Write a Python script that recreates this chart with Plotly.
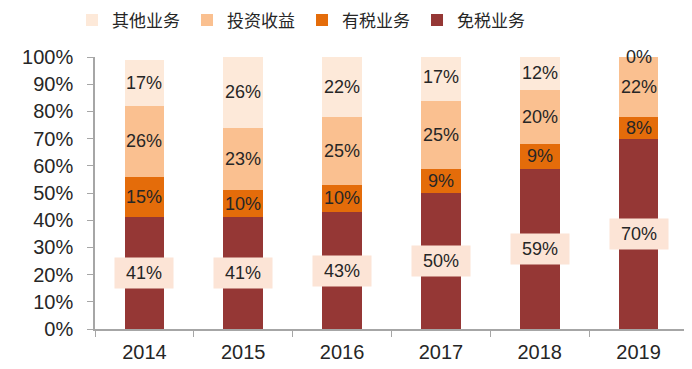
import plotly.graph_objects as go

years = ["2014", "2015", "2016", "2017", "2018", "2019"]
series_names = ["免税业务", "有税业务", "投资收益", "其他业务"]
duty_free = [41, 41, 43, 50, 59, 70]
duty_paid = [15, 10, 10, 9, 9, 8]
investment = [26, 23, 25, 25, 20, 22]
other = [17, 26, 22, 17, 12, 0]
colors = ["#953735", "#E46C0A", "#FAC090", "#FDE9D9"]
label_bg = "#FCE4D6"

all_values = [duty_free, duty_paid, investment, other]
FONT = "Liberation Sans, Arial, Noto Sans CJK SC, sans-serif"

fig = go.Figure()
for name, vals, col in zip(series_names, all_values, colors):
    fig.add_trace(go.Bar(x=years, y=vals, name=name, marker=dict(color=col, line=dict(width=0)),
                         width=0.4, hoverinfo="skip"))

base = [0] * len(years)
for si, vals in enumerate(all_values):
    for i, v in enumerate(vals):
        kw = {}
        if si == 0:
            kw = dict(bgcolor=label_bg, width=56, height=28)
        fig.add_annotation(x=i, y=base[i] + v / 2, xref="x", yref="y", text=f"{v}%",
                           showarrow=False,
                           font=dict(size=18, color="#262626", family=FONT), **kw)
        base[i] += v

# page body has an 8px default margin, so the figure is offset by 8px right/down
fig.update_layout(
    barmode="stack",
    width=692, height=369,
    margin=dict(l=87, r=12, t=49, b=48, autoexpand=False),
    paper_bgcolor="white", plot_bgcolor="white",
    font=dict(family=FONT, color="#262626"),
    showlegend=True,
    legend=dict(orientation="h", traceorder="reversed", x=0.0925, xanchor="left",
                y=0.966, yanchor="middle", xref="container", yref="container",
                font=dict(size=17, family="Noto Sans CJK SC, sans-serif"),
                itemwidth=30, entrywidth=70, entrywidthmode="pixels"),
)
fig.update_yaxes(range=[0, 100], dtick=10, ticksuffix="%", showgrid=False, zeroline=False,
                 showline=True, linecolor="#A6A6A6", linewidth=1.5, ticks="outside",
                 tickcolor="#A6A6A6", ticklen=6, tickfont=dict(size=20, family=FONT),
                 ticklabelstandoff=10)
fig.update_xaxes(type="category", range=[-0.5, 5.5], showgrid=False, showline=True,
                 linecolor="#A6A6A6", linewidth=1.5, ticks="outside", tickson="boundaries",
                 tickcolor="#A6A6A6", ticklen=6, tickfont=dict(size=20, family=FONT),
                 ticklabelstandoff=4)

fig.write_html("out.html")
